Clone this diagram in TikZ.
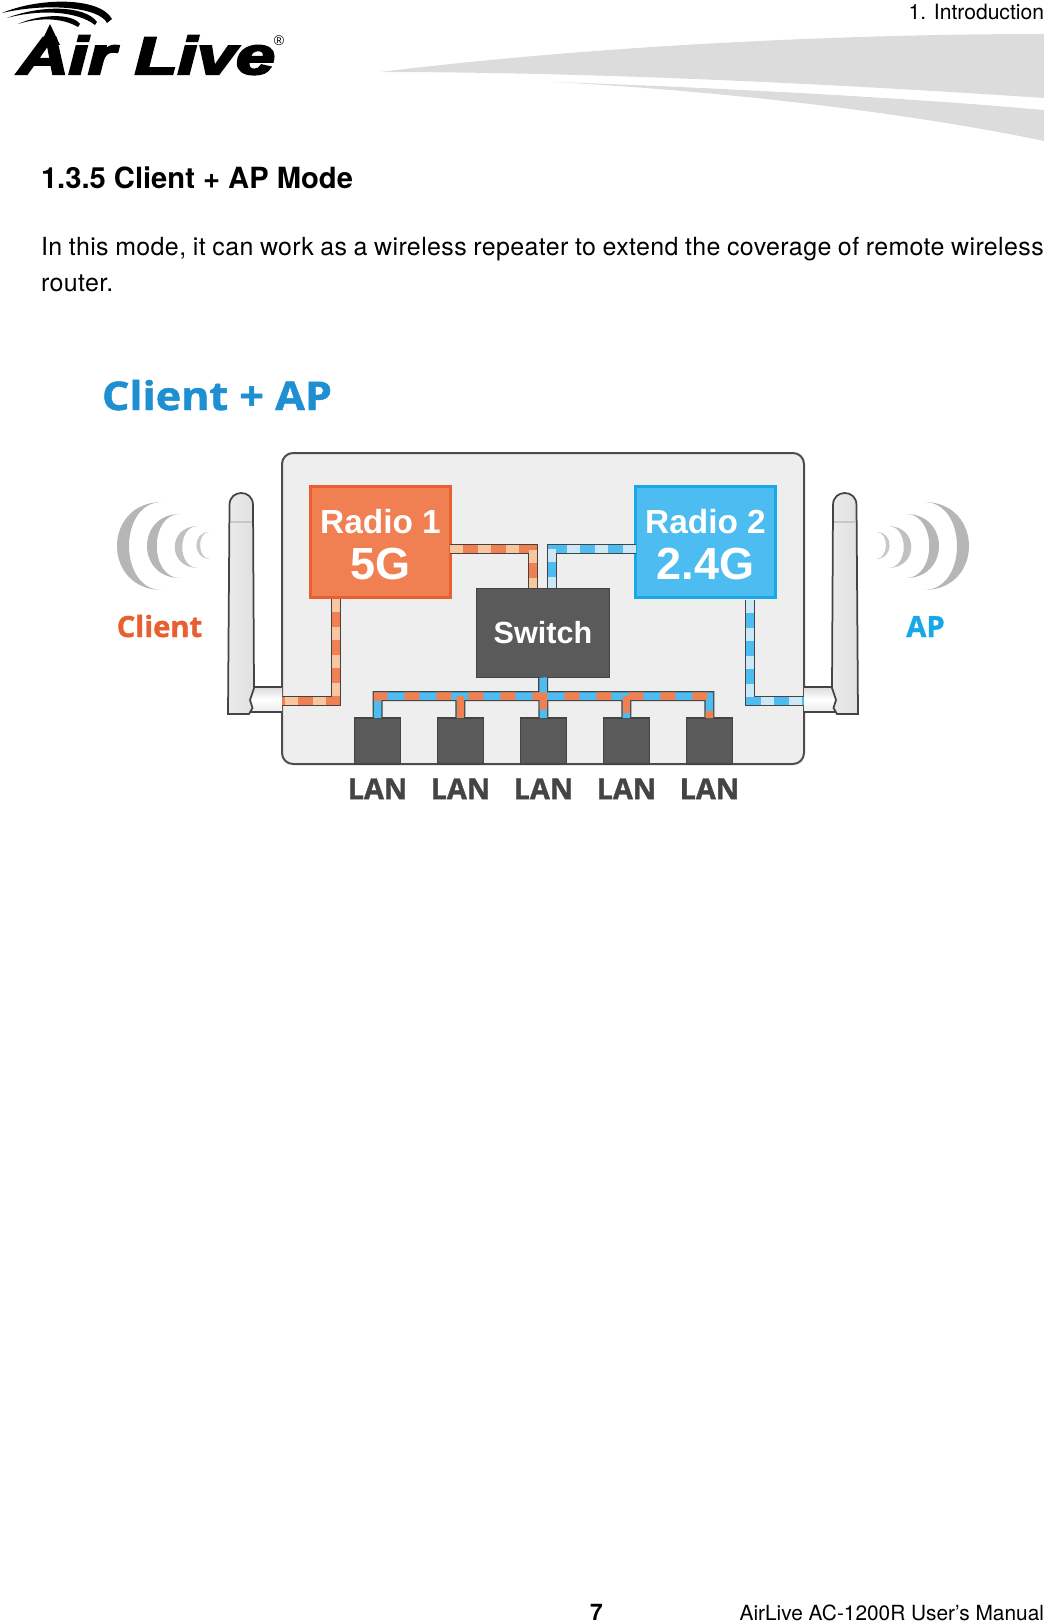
\documentclass[tikz,border=0pt]{standalone}
\usepackage{fontspec}
\setmainfont{TeX Gyre Heros}
\newfontfamily\opensans[BoldFeatures={FakeBold=1.2}]{Open Sans}
\newfontfamily\radiofont{Liberation Sans}
\newfontfamily\logofont[BoldItalicFeatures={FakeBold=4}]{Liberation Sans}
\newfontfamily\bodyfont[LetterSpace=1.6]{TeX Gyre Heros}
\usetikzlibrary{positioning}
\definecolor{swoosh}{HTML}{DCDCDC}
\definecolor{boardfill}{HTML}{EEEEEE}
\definecolor{boardedge}{HTML}{4D4D4D}
\definecolor{darkbox}{HTML}{5A5A5A}
\definecolor{darkedge}{HTML}{444444}
\definecolor{orangefill}{HTML}{F07F52}
\definecolor{orangeedge}{HTML}{E85F31}
\definecolor{orangepale}{HTML}{F9C79F}
\definecolor{bluefill}{HTML}{4DBCF0}
\definecolor{blueedge}{HTML}{18A8E6}
\definecolor{bluepale}{HTML}{CCE8F6}
\definecolor{titleblue}{HTML}{1E8FD0}
\definecolor{wavegray}{HTML}{B6B6B6}
\tikzset{
    plain/.style={inner sep=0, outer sep=0, anchor=base west},
    radiobox/.style={draw, line width=0.06cm, text=white, minimum width=2.8cm, minimum height=2.24cm, align=center, inner sep=0, outer sep=0, font=\radiofont\bfseries},
    darkbox/.style={draw=darkedge, fill=darkbox, line width=0.03cm, inner sep=0, outer sep=0},
    lanbox/.style={darkbox, minimum width=0.92cm, minimum height=0.92cm},
    lanlabel/.style={inner sep=0, outer sep=0, text=darkedge, font=\opensans\bfseries\fontsize{16.4}{17}\selectfont},
    orangelink/.style={preaction={draw=darkedge, line width=0.19cm}, preaction={draw=orangefill, line width=0.145cm}, draw=orangepale, line width=0.145cm, dash pattern=on 0.26cm off 0.3cm},
    bluelink/.style={preaction={draw=darkedge, line width=0.19cm}, preaction={draw=bluefill, line width=0.145cm}, draw=bluepale, line width=0.145cm, dash pattern=on 0.26cm off 0.3cm},
    buslink/.style={preaction={draw=darkedge, line width=0.2cm}, preaction={draw=bluefill, line width=0.15cm}, draw=orangefill, line width=0.15cm, dash pattern=on 0.3cm off 0.34cm, dash phase=0.3cm},
    busdrop/.style={draw=orangefill, line width=0.15cm},
    antenna/.pic={
        \draw[darkedge, line width=0.03cm, top color=black!14, bottom color=black!8, middle color=white] (282,687) -- (250,687) -- (250,712) -- (282,712);
        \draw[darkedge, line width=0.035cm, left color=black!8, middle color=white, right color=black!12]
            (229.5,505) .. controls (229.5,489) and (253,489) .. (253,505) -- (254,688) -- (250,700) -- (252.5,708) -- (249,714) -- (228,714) -- cycle;
        \draw[black!22, line width=0.05cm] (230.5,522) -- (252,522);
    },
    waves/.pic={
        \fill[wavegray] (162,502) .. controls (102,502) and (102,590) .. (162,590) .. controls (118,590) and (118,502) .. cycle;
        \fill[wavegray] (180,514) .. controls (136,514) and (136,578) .. (180,578) .. controls (149,578) and (149,514) .. cycle;
        \fill[wavegray!85] (198,526) .. controls (167,526) and (167,568) .. (198,568) .. controls (177,568) and (177,526) .. cycle;
        \fill[wavegray!75] (209,532) .. controls (192,532) and (192,559) .. (210,559) .. controls (197,559) and (197,532) .. cycle;
    }
}
\begin{document}
\begin{tikzpicture}[x=0.02cm, y=-0.02cm]
    \useasboundingbox (0,0) rectangle (1044,1622);
    % page head
    \fill[swoosh] (380,72) .. controls (600,45) and (850,34) .. (1044,34) -- (1044,98) .. controls (850,85) and (600,72) .. cycle;
    \fill[swoosh] (553,82) .. controls (700,87) and (900,97) .. (1044,110) -- (1044,141) .. controls (920,115) and (740,92) .. cycle;
    \fill[black] (2,13) .. controls (40,-3) and (100,-3) .. (112,19) -- (107,23) .. controls (100,8) and (50,2) .. cycle;
    \fill[black] (7,18) .. controls (40,5) and (85,5) .. (97,22) -- (95,25) .. controls (77,11) and (40,9) .. cycle;
    \fill[black] (18,24) .. controls (40,14) and (72,13) .. (80,24) -- (78,27) .. controls (63,18) and (40,17) .. cycle;
    \node[plain, xscale=1.33] (logo) at (18,74) {\logofont\bfseries\itshape\fontsize{30}{30}\selectfont Air Live};
    \fill[black] (50,24) -- (60,45) -- (40,45) -- cycle;
    \node[inner sep=0, outer sep=0, font=\radiofont\fontsize{8}{8}\selectfont] (regmark) at (279,41) {®};
    \node[inner sep=0, outer sep=0, anchor=base east, font=\fontsize{12}{12}\selectfont] (chapter) at (1044,19.5) {1.  Introduction};
    % section text
    \node[plain, font=\bfseries\fontsize{16.6}{18}\selectfont] (heading) at (41,189) {1.3.5 Client + AP Mode};
    \node[inner sep=0, outer sep=0, anchor=north west, text width=20.06cm, align=justify, font=\bodyfont\fontsize{14.2}{20.4}\selectfont] (intro) at (41,237) {In this mode, it can work as a wireless repeater to extend the coverage of remote wireless router.};
    % router
    \node[plain, xscale=1.09, text=titleblue, font=\opensans\bfseries\fontsize{22.5}{24}\selectfont] (title) at (102,410) {Client + AP};
    \draw[boardedge, fill=boardfill, line width=0.04cm, rounded corners=0.22cm] (282,453) rectangle (804,764);
    \pic {antenna};
    \pic[xscale=-1] at (1086,0) {antenna};
    \pic {waves};
    \pic[xscale=-1] at (1086,0) {waves};
    \node[inner sep=0, outer sep=0, anchor=base, text=orangeedge, font=\opensans\bfseries\fontsize{16.6}{17}\selectfont] (client) at (159.5,637) {Client};
    \node[inner sep=0, outer sep=0, anchor=base, text=blueedge, font=\opensans\bfseries\fontsize{16.6}{17}\selectfont] (ap) at (925.5,637) {AP};
    % radios and switch
    \node[radiobox, draw=orangeedge, fill=orangefill] (radioa) at (380.5,542) {\rule{0pt}{0.6cm}\fontsize{19}{18}\selectfont Radio 1\\[0.25cm]\fontsize{25.6}{24}\selectfont 5G};
    \node[radiobox, draw=blueedge, fill=bluefill] (radiob) at (705.5,542) {\rule{0pt}{0.6cm}\fontsize{19}{18}\selectfont Radio 2\\[0.25cm]\fontsize{25.6}{24}\selectfont 2.4G};
    \node[darkbox, text=white, minimum width=2.66cm, minimum height=1.78cm, font=\radiofont\bfseries\fontsize{17.4}{17}\selectfont] (switch) at (543,633) {Switch};
    \node[lanbox] (lana) at (377.5,741) {};
    \node[lanbox, right=0.74cm of lana] (lanb) {};
    \node[lanbox, right=0.74cm of lanb] (lanc) {};
    \node[lanbox, right=0.74cm of lanc] (land) {};
    \node[lanbox, right=0.74cm of land] (lane) {};
    \node[lanlabel, below=0.29cm of lana] (lanlabela) {LAN};
    \node[lanlabel, below=0.29cm of lanb] (lanlabelb) {LAN};
    \node[lanlabel, below=0.29cm of lanc] (lanlabelc) {LAN};
    \node[lanlabel, below=0.29cm of land] (lanlabeld) {LAN};
    \node[lanlabel, below=0.29cm of lane] (lanlabele) {LAN};
    % links
    \coordinate (radioaout) at (radioa.east |- 0,549);
    \coordinate (radiobout) at (radiob.west |- 0,549);
    \coordinate (switchina) at (533,588);
    \coordinate (switchinb) at (552,588);
    \coordinate (antennaa) at (282,701);
    \coordinate (antennab) at (804,701);
    \coordinate (radioadown) at (336,599);
    \coordinate (radiobdown) at (750,600);
    \coordinate (busleft) at (lana.north |- 0,696);
    \coordinate (busright) at (lane.north |- 0,696);
    \draw[orangelink] (radioaout) -| (switchina);
    \draw[bluelink] (radiobout) -| (switchinb);
    \draw[orangelink] (radioadown) |- (antennaa);
    \draw[bluelink] (radiobdown) |- (antennab);
    \draw[buslink] (lana.north) -- (busleft) -- (busright) -- (lane.north)
        (switch.south) -- (lanc.north)
        (lanb.north) -- (lanb.north |- busleft)
        (land.north) -- (land.north |- busleft);
    \draw[busdrop] (lanb.north) -- (lanb.north |- busleft);
    \draw[busdrop] ([yshift=0.1cm]land.north) -- (land.north |- busleft);
    % page foot
    \node[plain, font=\bfseries\fontsize{13}{13}\selectfont] (pageno) at (590,1620) {7};
    \node[inner sep=0, outer sep=0, anchor=base east, font=\fontsize{11.87}{12}\selectfont] (manual) at (1044,1620) {AirLive AC-1200R User’s Manual};
\end{tikzpicture}
\end{document}
